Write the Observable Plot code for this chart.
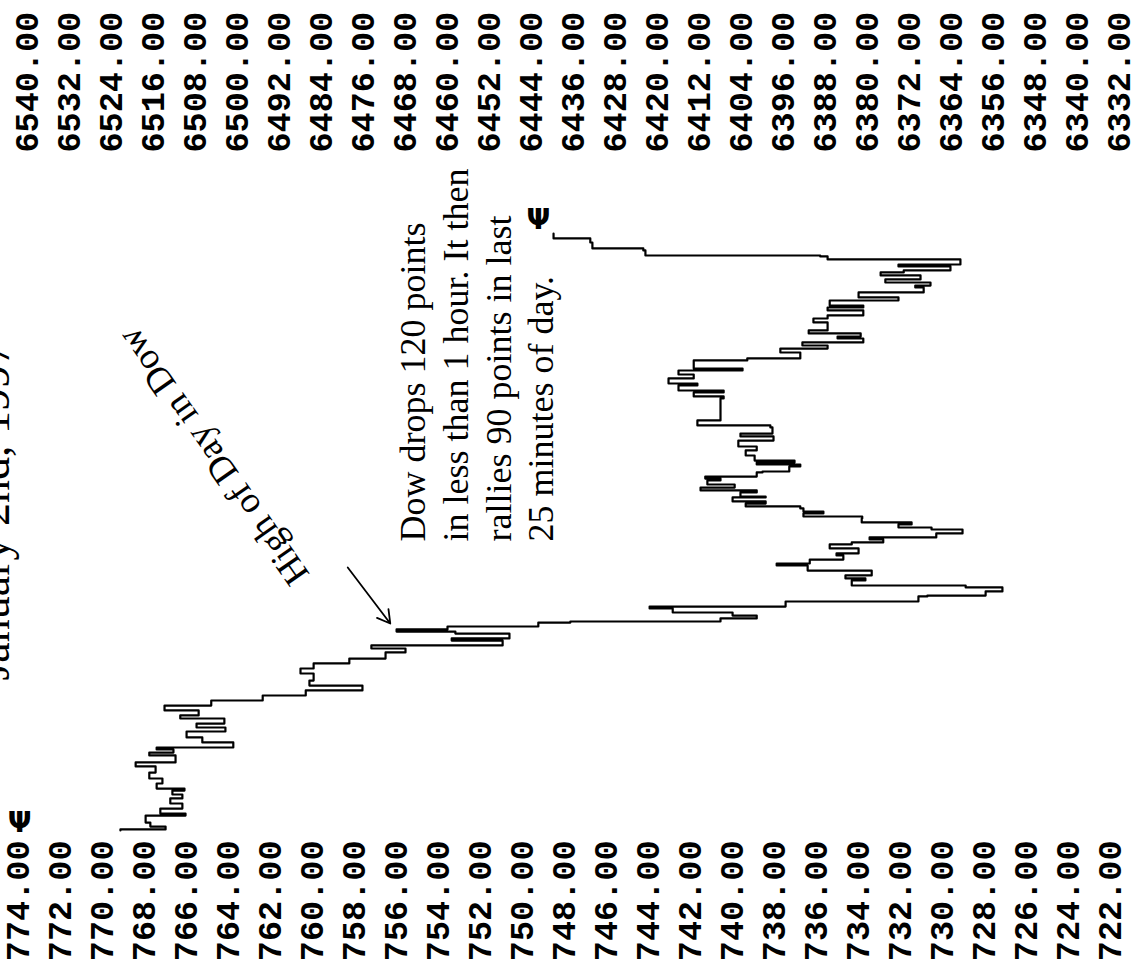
<!DOCTYPE html>
<html>
<head>
<meta charset="utf-8">
<script src="https://cdn.jsdelivr.net/npm/d3@7"></script>
<script src="https://cdn.jsdelivr.net/npm/@observablehq/plot@0.6"></script>
<style>
  html, body { margin: 0; padding: 0; background: #fff; }
  #chart svg { display: block; }
  g[aria-label="x-axis tick label"] text { font-weight: bold; }
</style>
</head>
<body>
<div id="chart"></div>
<script>
// Dow Jones axis (top) and S&P axis (bottom) tick labels
const dowTicks = [6540, 6532, 6524, 6516, 6508, 6500, 6492, 6484, 6476, 6468, 6460, 6452, 6444,
  6436, 6428, 6420, 6412, 6404, 6396, 6388, 6380, 6372, 6364, 6356, 6348, 6340, 6332];
const spTicks = [774, 772, 770, 768, 766, 764, 762, 760, 758, 756, 754, 752, 750,
  748, 746, 744, 742, 740, 738, 736, 734, 732, 730, 728, 726, 724, 722];

// intraday trace: minutes after the open, value in Dow points
const minutes = [
  0, 0.7, 2.6, 5.2, 9.8, 11.1, 14.4, 17.7, 21.0, 23.6,
  26.2, 27.5, 30.8, 34.1, 38.0, 42.0, 44.6, 49.2, 51.1, 53.1,
  54.4, 57.7, 61.0, 64.9, 67.5, 70.1, 73.4, 75.4, 78.7, 81.9,
  85.2, 88.5, 91.8, 95.0, 98.3, 102.9, 106.2, 109.5, 112.7, 116.7,
  119.3, 121.3, 124.5, 125.9, 129.1, 130.4, 131.8, 133.7, 136.3, 137.0,
  139.0, 140.9, 142.9, 145.5, 146.8, 150.1, 153.4, 154.0, 156.7, 159.3,
  160.6, 163.9, 165.2, 167.2, 170.4, 173.7, 175.0, 177.6, 180.3, 181.6,
  184.9, 187.5, 188.8, 190.8, 192.1, 194.7, 197.3, 198.6, 200.6, 201.9,
  204.5, 205.8, 207.8, 209.1, 211.1, 212.4, 214.3, 215.7, 218.3, 218.9,
  221.6, 222.9, 224.8, 226.8, 229.4, 230.7, 232.0, 234.7, 235.3, 238.6,
  239.9, 241.2, 242.5, 245.8, 249.1, 251.7, 255.6, 258.3, 260.2, 264.2,
  265.5, 268.8, 278.6, 283.2, 284.5, 287.1, 288.4, 291.7, 293.0, 296.3,
  298.9, 301.5, 302.8, 308.1, 309.4, 313.3, 315.9, 317.9, 319.9, 322.5,
  323.8, 325.8, 327.8, 333.0, 335.6, 337.6, 340.9, 342.8, 344.1, 347.4,
  349.4, 352.7, 355.9, 357.2, 359.2, 361.2, 363.8, 365.8, 367.1, 369.7,
  371.0, 374.3, 376.3, 376.9, 380.2, 381.5, 385.4, 388.1, 391.3
];
const dowValues = [
  6522.3, 6513.7, 6516.6, 6517.5, 6509.9, 6514.7, 6510.5, 6512.8, 6510.5, 6512.4,
  6510.1, 6515.4, 6514.3, 6516.8, 6515.6, 6519.4, 6511.8, 6516.8, 6512.2, 6515.4,
  6500.8, 6506.7, 6509.7, 6502.3, 6507.8, 6502.5, 6510.9, 6507.4, 6513.9, 6505.0,
  6495.2, 6487.0, 6476.2, 6486.3, 6485.5, 6488.0, 6485.5, 6478.7, 6471.8, 6468.0,
  6474.5, 6449.5, 6459.2, 6448.2, 6458.5, 6469.7, 6460.0, 6442.7, 6436.6, 6408.0,
  6401.1, 6405.7, 6417.1, 6421.5, 6395.6, 6370.3, 6368.6, 6357.5, 6354.3, 6361.3,
  6383.0, 6380.4, 6384.2, 6379.2, 6391.4, 6397.3, 6391.0, 6384.6, 6385.9, 6381.7,
  6387.2, 6383.0, 6377.0, 6379.6, 6366.9, 6361.9, 6367.8, 6374.1, 6371.6, 6381.1,
  6381.0, 6392.2, 6388.4, 6392.2, 6392.8, 6403.2, 6399.4, 6405.7, 6399.4, 6404.2,
  6401.1, 6411.8, 6405.3, 6410.5, 6408.0, 6410.9, 6401.1, 6400.0, 6394.9, 6392.8,
  6401.1, 6393.9, 6401.5, 6403.2, 6401.1, 6404.6, 6397.9, 6404.2, 6398.1, 6398.5,
  6412.4, 6408.0, 6408.0, 6407.4, 6413.1, 6407.4, 6416.0, 6412.4, 6417.9, 6413.1,
  6416.0, 6403.8, 6413.1, 6402.9, 6392.8, 6396.6, 6387.6, 6392.4, 6380.8, 6385.7,
  6381.3, 6391.2, 6387.6, 6390.3, 6387.6, 6380.8, 6387.6, 6380.8, 6387.2, 6374.1,
  6381.7, 6369.3, 6370.9, 6368.0, 6376.6, 6369.9, 6377.5, 6373.1, 6364.2, 6374.1,
  6362.3, 6387.6, 6389.0, 6422.3, 6422.7, 6432.4, 6432.8, 6439.8, 6439.8
];

// texts
const titleText = ["January 2nd, 1997"];
const titlePos = {dow: 6546.4, t: 98.3};
const noteLines = ["Dow drops 120 points", "in less than 1 hour. It then", "rallies 90 points in last", "25 minutes of day."];
const notePos = {dow: 6470.1, t: 189.4};
const highText = ["High of Day in Dow"];
const highPos = {dow: 6504.6, t: 245.2};
const highArrow = {dow1: 6479.0, t1: 172.4, dow2: 6470.9, t2: 135.7};
const markerPos = [{dow: 6541.5, t: 4.6}, {dow: 6442.7, t: 399.9}];

const spToDow = (s) => 6540 - (774 - s) * 4;
const dowToSp = (d) => 774 - (6540 - d) / 4;

const trace = minutes.map((t, i) => ({t, v: dowValues[i]}));

const labelFont = {fontSize: 33.5, fontFamily: "Liberation Mono, DejaVu Sans Mono, monospace", fontWeight: "bold"};

const chart = Plot.plot({
  width: 1137,
  height: 970,
  marginTop: 155,
  marginBottom: 133,
  marginLeft: 0,
  marginRight: 0,
  x: {domain: [6540, 6332], range: [27, 1119]},
  y: {domain: [0, 390], range: [830, 235]},
  style: {background: "white", color: "black", overflow: "hidden"},
  marks: [
    Plot.axisX(dowTicks, {
      anchor: "top", tickSize: 0, tickPadding: 3, tickRotate: -90,
      textAnchor: "start", lineAnchor: "middle", label: null,
      tickFormat: (d) => d.toFixed(2), ...labelFont
    }),
    Plot.axisX(spTicks.map(spToDow), {
      anchor: "bottom", tickSize: 0, tickPadding: 3, tickRotate: -90,
      textAnchor: "end", lineAnchor: "middle", label: null, dx: -9,
      tickFormat: (d) => dowToSp(d).toFixed(2), ...labelFont
    }),
    Plot.line(trace, {x: "v", y: "t", curve: "step-before", stroke: "black", strokeWidth: 2.2}),
    Plot.text(titleText, {
      x: () => titlePos.dow, y: () => titlePos.t, text: (d) => d,
      rotate: -90, textAnchor: "start", lineAnchor: "middle",
      fontSize: 46, fontFamily: "Liberation Serif, Times New Roman, serif", fill: "black"
    }),
    Plot.text([noteLines.join("\n")], {
      x: () => notePos.dow, y: () => notePos.t, text: (d) => d,
      rotate: -90, textAnchor: "start", lineAnchor: "top", lineHeight: 1.19,
      fontSize: 36, fontFamily: "Liberation Serif, Times New Roman, serif", fill: "black"
    }),
    Plot.text(highText, {
      x: () => highPos.dow, y: () => highPos.t, text: (d) => d,
      rotate: -125, textAnchor: "middle", lineAnchor: "middle",
      fontSize: 37, fontFamily: "Liberation Serif, Times New Roman, serif", fill: "black"
    }),
    Plot.arrow([highArrow], {
      x1: "dow1", y1: "t1", x2: "dow2", y2: "t2",
      stroke: "black", strokeWidth: 1.8, headLength: 12
    }),
    Plot.text(markerPos, {
      x: "dow", y: "t", text: () => "\u03A8",
      fontSize: 28, fontWeight: "bold", fontFamily: "DejaVu Sans, sans-serif", fill: "black"
    })
  ]
});

document.getElementById("chart").appendChild(chart);
</script>
</body>
</html>
